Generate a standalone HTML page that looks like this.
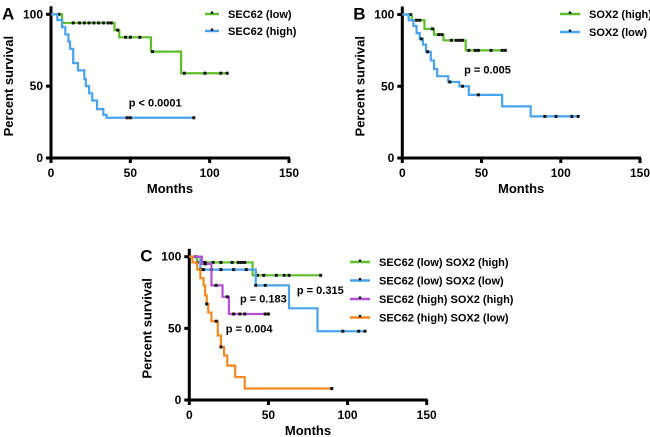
<!DOCTYPE html>
<html><head><meta charset="utf-8"><style>
html,body{margin:0;padding:0;background:#fff}
svg{display:block;font-family:"Liberation Sans",Arial,sans-serif;font-weight:bold}
</style></head><body>
<svg id="fig" width="650" height="437" viewBox="0 0 650 437" xmlns="http://www.w3.org/2000/svg"></svg>
<script>
// Panel A
const aLowT=[0,7,40,43,63,82,111], aLowS=[100,94,89,84,74,59,59], aLowC=[5,14,18,21,24,27,30,33,36,38,42,47,50,56,64,84,97,107,111];
const aHighT=[0,4,7,9,11,12,14,17,21,22,24,26,29,33,35,90], aHighS=[100,96,91,86,81,76,66,61,55,50,45,40,34,30,28,28], aHighC=[48,50,90];
// Panel B
const bHighT=[0,6,14,20,26,40,65], bHighS=[100,96,90,86,82,75,75], bHighC=[5,9,11,19,23,25,31,34,36,38,42,46,48,56,63,65];
const bLowT=[0,4,7,9,11,13,15,18,20,22,29,36,42,63,81,111], bLowS=[100,96,92,87,83,79,74,68,62,57,53,50,44,36,29,29], bLowC=[12,16,30,38,48,90,97,107,111];
// Panel C
const cGT=[0,5,40,83], cGS=[100,96,87,87], cGC=[5,8,10,15,20,27,31,33,35,43,47,55,60,63,83];
const cBT=[0,7,42,63,81,111], cBS=[100,91,80,64,48,48], cBC=[4,7,9,14,20,28,36,42,48,97,107,111];
const cPT=[0,8,14,21,25,50], cPS=[100,95,80,72,60,60], cPC=[10,17,24,28,32,35,48,50];
const cOT=[0,2,5,7,9,10,11,12,14,18,20,22,24,29,35,90], cOS=[100,96,91,85,80,73,67,61,55,45,37,31,24,16,8,8], cOC=[11,17,20,90];
const xTicks=[0,50,100,150], yTicks=[0,50,100];

const NS="http://www.w3.org/2000/svg", svg=document.getElementById('fig');
function mk(tag,at,parent){const e=document.createElementNS(NS,tag);for(const k in at)e.setAttribute(k,at[k]);(parent||svg).appendChild(e);return e;}
const G='#5fbf2a',B='#4aa3ef',P='#b54fd6',O='#f5891f';

function panel(p){
  const g=mk('g',{});
  
  
  const sx=v=>p.x0+(p.x1-p.x0)*v/150, sy=v=>p.y0+(p.y1-p.y0)*v/100;
  const lt=mk('text',{x:p.x0-49,y:p.y1+5,'font-size':17,fill:'#000'},g);lt.textContent=p.id;
  
  // axes
  const ya=mk('line',{x1:p.x0,y1:p.y1-8,x2:p.x0,y2:p.y0+1.5,stroke:'#000','stroke-width':3},g);
  
  const xa=mk('line',{x1:p.x0-1.5,y1:p.y0,x2:sx(150)+1,y2:p.y0,stroke:'#000','stroke-width':3},g);
  
  xTicks.forEach(v=>{mk('line',{x1:sx(v),y1:p.y0,x2:sx(v),y2:p.y0+5,stroke:'#000','stroke-width':3},g);
    const t=mk('text',{x:sx(v),y:p.y0+19,'font-size':12,'text-anchor':'middle'},g);t.textContent=v;
    });
  yTicks.forEach(v=>{mk('line',{x1:p.x0-5,y1:sy(v),x2:p.x0,y2:sy(v),stroke:'#000','stroke-width':3},g);
    const t=mk('text',{x:p.x0-8,y:sy(v)+4,'font-size':12,'text-anchor':'end'},g);t.textContent=v;
    });
  const xt=mk('text',{x:sx(75),y:p.y0+35,'font-size':13,'text-anchor':'middle'},g);xt.textContent='Months';
  
  const yt=mk('text',{x:0,y:0,'font-size':13,'text-anchor':'middle',transform:`translate(${p.x0-38},${sy(50)}) rotate(-90)`},g);yt.textContent='Percent survival';
  
  // series
  p.series.forEach((s,i)=>{
    let d='M'+sx(s.t[0])+','+sy(s.s[0]);
    for(let k=1;k<s.t.length;k++){d+='H'+sx(s.t[k])+'V'+sy(s.s[k]);}
    const path=mk('path',{d:d,fill:'none',stroke:s.c,'stroke-width':2.2},g);
    
    s.cen.forEach(ct=>{let v=s.s[0];for(let k=0;k<s.t.length;k++)if(s.t[k]<=ct)v=s.s[k];
      const r=mk('rect',{x:sx(ct)-1.5,y:sy(v)-1.5,width:3,height:3,fill:'#111'},g);
      });
    const ly=p.ly+i*p.ld;
    const ll=mk('line',{x1:p.lx,y1:ly,x2:p.lx+p.lw,y2:ly,stroke:s.c,'stroke-width':2.5},g);
    
    mk('rect',{x:p.lx+p.lw/2-1.2,y:ly-2.5,width:2.4,height:2.4,fill:'#111'},g);
    const lt2=mk('text',{x:p.lx+p.lw+9,y:ly+4,'font-size':11},g);lt2.textContent=s.name;
    
  });
  p.pv.forEach(q=>{const t=mk('text',{x:sx(q[1]),y:sy(q[2]),'font-size':11},g);t.textContent=q[0];
    });
}
panel({id:'A',x0:51,x1:289,y0:158,y1:14.3,lx:205,lw:14,ly:14,ld:17,
  series:[{key:'sec62-low',name:'SEC62 (low)',c:G,t:aLowT,s:aLowS,cen:aLowC},
          {key:'sec62-high',name:'SEC62 (high)',c:B,t:aHighT,s:aHighS,cen:aHighC}],
  pv:[['p < 0.0001',49,36]]});
panel({id:'B',x0:402.3,x1:640,y0:158,y1:14.5,lx:560,lw:20,ly:14,ld:18,
  series:[{key:'sox2-high',name:'SOX2 (high)',c:G,t:bHighT,s:bHighS,cen:bHighC},
          {key:'sox2-low',name:'SOX2 (low)',c:B,t:bLowT,s:bLowS,cen:bLowC}],
  pv:[['p = 0.005',39,59]]});
panel({id:'C',x0:189.3,x1:426.7,y0:400,y1:256.7,lx:350,lw:20,ly:262,ld:18.5,
  series:[{key:'low-high',name:'SEC62 (low) SOX2 (high)',c:G,t:cGT,s:cGS,cen:cGC},
          {key:'low-low',name:'SEC62 (low) SOX2 (low)',c:B,t:cBT,s:cBS,cen:cBC},
          {key:'high-high',name:'SEC62 (high) SOX2 (high)',c:P,t:cPT,s:cPS,cen:cPC},
          {key:'high-low',name:'SEC62 (high) SOX2 (low)',c:O,t:cOT,s:cOS,cen:cOC}],
  pv:[['p = 0.315',68,74],['p = 0.183',32,68],['p = 0.004',23,47]]});
</script>
</body></html>
